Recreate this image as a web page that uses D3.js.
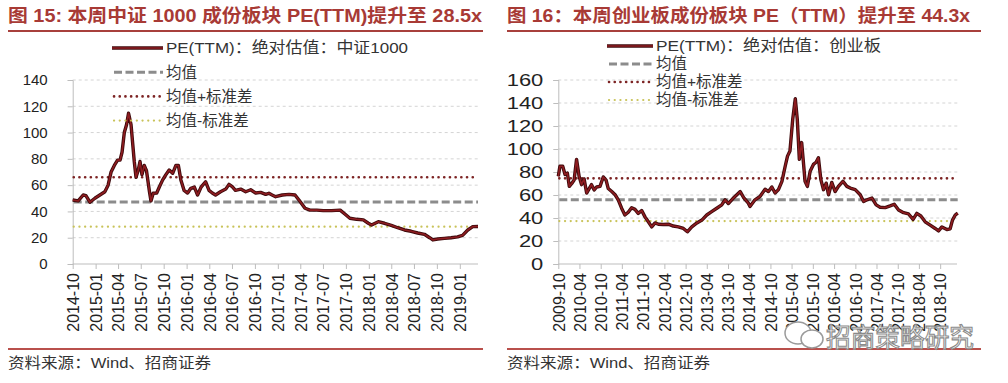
<!DOCTYPE html>
<html><head><meta charset="utf-8">
<script src="https://cdn.jsdelivr.net/npm/d3@7"></script>
<style>
body{margin:0;background:#fff;}
svg text{font-family:"Liberation Sans",Arial,"Noto Sans CJK SC",sans-serif;}
</style></head><body>
<svg id="c" width="1008" height="383"></svg>
<script>
// ---------- data: 中证1000 ----------
const csi1000Dates = ["2014-10-01","2014-10-23","2014-11-12","2014-11-23","2014-12-09","2014-12-29","2015-01-18","2015-02-07","2015-02-20","2015-03-04","2015-03-17","2015-03-30","2015-04-09","2015-04-17","2015-04-26","2015-05-05","2015-05-13","2015-05-23","2015-06-05","2015-06-12","2015-06-21","2015-06-28","2015-07-06","2015-07-15","2015-07-24","2015-08-05","2015-08-11","2015-08-20","2015-09-03","2015-09-14","2015-09-27","2015-10-10","2015-10-23","2015-11-06","2015-11-19","2015-11-29","2015-12-09","2015-12-22","2016-01-05","2016-01-18","2016-02-01","2016-02-14","2016-02-28","2016-03-17","2016-03-31","2016-04-13","2016-04-26","2016-05-16","2016-06-06","2016-06-19","2016-07-02","2016-07-15","2016-08-05","2016-08-25","2016-09-14","2016-10-04","2016-10-24","2016-11-13","2016-11-26","2016-12-09","2016-12-23","2017-01-19","2017-02-15","2017-03-11","2017-04-01","2017-04-20","2017-05-10","2017-06-06","2017-07-02","2017-08-05","2017-09-08","2017-09-28","2017-10-17","2017-11-13","2017-12-10","2017-12-30","2018-01-12","2018-02-08","2018-03-05","2018-04-01","2018-04-27","2018-05-24","2018-06-20","2018-07-16","2018-08-12","2018-09-02","2018-09-15","2018-10-04","2018-10-31","2018-11-27","2018-12-23","2019-01-12","2019-02-02","2019-02-22","2019-03-15"];
const csi1000Values = [48.7,48,52.5,52,47,50,52.5,55,60,70,75,79,79,85,100,106,114.7,106,78,66,71.5,78,68,75,71,55,48,53.8,54,58.8,64,68,71.5,69,75,75,64,56,54,57.6,58.5,52.5,58.5,62.6,56,54,52.5,55,57,60.6,58.8,56,57,55,56.5,54,54.5,53,53.8,52.5,51.2,52.5,53,52.5,47.4,42.4,41,41,40.6,40.6,41,37.8,34.8,34,33.6,31,29.7,32.2,31,29.4,27.6,25.9,24.9,23.6,22.6,20,18.3,19,19.5,20,20.6,21.8,25.9,28.4,28.5];
const csi1000Bands = [47.2, 66.0, 28.4];   // 均值, 均值+标准差, 均值-标准差
const csi1000XTicks = ["2014-10","2015-01","2015-04","2015-07","2015-10","2016-01","2016-04","2016-07","2016-10","2017-01","2017-04","2017-07","2017-10","2018-01","2018-04","2018-07","2018-10","2019-01"];
const csi1000YTicks = [0,20,40,60,80,100,120,140];
const csi1000Legend = ["PE(TTM)：绝对估值：中证1000","均值","均值+标准差","均值-标准差"];
const csi1000Title = "图 15: 本周中证 1000 成份板块 PE(TTM)提升至 28.5x";

// ---------- data: 创业板 ----------
const chinextDates = ["2009-10-01","2009-10-15","2009-11-08","2009-11-28","2009-12-18","2010-01-04","2010-01-25","2010-02-14","2010-03-07","2010-03-29","2010-04-19","2010-05-11","2010-06-02","2010-06-24","2010-07-14","2010-08-06","2010-08-27","2010-09-25","2010-10-23","2010-11-16","2010-12-05","2011-01-04","2011-02-02","2011-03-01","2011-03-30","2011-04-27","2011-05-26","2011-06-24","2011-07-23","2011-08-20","2011-09-19","2011-10-17","2011-11-15","2011-12-14","2012-01-12","2012-02-09","2012-03-23","2012-05-05","2012-06-17","2012-07-30","2012-09-12","2012-10-16","2012-11-23","2013-01-06","2013-02-18","2013-04-01","2013-05-13","2013-06-26","2013-08-08","2013-09-06","2013-10-04","2013-11-12","2013-12-16","2014-01-14","2014-02-12","2014-03-25","2014-04-08","2014-05-21","2014-07-03","2014-08-16","2014-09-14","2014-10-13","2014-11-10","2014-12-09","2015-01-08","2015-02-05","2015-02-25","2015-03-18","2015-04-11","2015-05-03","2015-05-20","2015-06-07","2015-06-27","2015-07-11","2015-07-26","2015-08-15","2015-09-08","2015-10-06","2015-10-29","2015-11-18","2015-12-09","2016-01-01","2016-01-24","2016-02-13","2016-03-12","2016-04-10","2016-05-08","2016-06-16","2016-07-20","2016-08-18","2016-09-30","2016-11-12","2016-12-11","2017-01-09","2017-02-21","2017-03-29","2017-05-02","2017-06-15","2017-07-27","2017-09-01","2017-10-08","2017-11-20","2018-01-02","2018-02-10","2018-03-14","2018-04-18","2018-05-25","2018-07-07","2018-08-19","2018-09-17","2018-10-16","2018-11-28","2018-12-26","2019-01-15","2019-02-08","2019-03-01"];
const chinextValues = [76.3,85,85,77.8,79,67.5,70,73,91,76.3,69,74,61.7,65.6,69,64.4,67,67.5,75.7,73,65.6,63,60.2,55.8,48.5,42.6,45,49,47.5,44,46.5,41,36.7,32.3,35.7,34.6,34.3,34.6,33,32.3,30.9,28,32.3,35.7,38.2,42.6,45.5,48.5,51.5,55.8,52.6,56.9,60.2,63,57.8,52.9,50,55.8,58.7,65,63,67,61.7,64.7,71.9,85,93.8,98.2,126,143.7,126,91,105.6,89.5,71.9,67.5,80.7,86.6,88.5,92.4,73.4,64.6,70.3,60.2,70.9,63,67.5,71.9,67.5,66,64.7,60.2,54.3,55.8,57.3,51.4,49.4,49,50.5,52,47,44.6,43.5,38.8,44,41.7,36.7,33.8,30.9,28.8,32.2,29.9,30.5,38.2,42.6,44.3];
const chinextBands = [55.9, 74.5, 37.3];
const chinextXTicks = ["2009-10","2010-04","2010-10","2011-04","2011-10","2012-04","2012-10","2013-04","2013-10","2014-04","2014-10","2015-04","2015-10","2016-04","2016-10","2017-04","2017-10","2018-04","2018-10"];
const chinextYTicks = [0,20,40,60,80,100,120,140,160];
const chinextLegend = ["PE(TTM)：绝对估值：创业板","均值","均值+标准差","均值-标准差"];
const chinextTitle = "图 16：本周创业板成份板块 PE（TTM）提升至 44.3x";

const sourceText = "资料来源：Wind、招商证券";

// ---------- drawing ----------
const svg = d3.select("#c");
const parseDay = d3.timeParse("%Y-%m-%d");
const parseMonth = d3.timeParse("%Y-%m");
const fmtMonth = d3.timeFormat("%Y-%m");

const lineStyles = [
  {stroke:"#8c8c8c", width:3, dash:"8,3.5", cap:"butt"},
  {stroke:"#7d2424", width:2.6, dash:"0.1,5.6", cap:"round"},
  {stroke:"#c9c35a", width:2.2, dash:"0.1,5.6", cap:"round"}
];

function panel(cfg){
  const g = svg.append("g");
  // title
  g.append("text").attr("x", cfg.left).attr("y", 22)
    .attr("font-size", 18).attr("font-weight", "bold").attr("fill", "#a83a35")
    .attr("font-family", "'Noto Sans CJK SC','Liberation Sans',sans-serif")
    .attr("textLength", cfg.titleLen).attr("lengthAdjust", "spacingAndGlyphs")
    .text(cfg.title);
  g.append("line").attr("x1", cfg.left).attr("x2", cfg.right).attr("y1", 31).attr("y2", 31)
    .attr("stroke", "#a8403c").attr("stroke-width", 2);
  g.append("line").attr("x1", cfg.left).attr("x2", cfg.right).attr("y1", 349).attr("y2", 349)
    .attr("stroke", "#b9504c").attr("stroke-width", 2);
  g.append("text").attr("x", cfg.left).attr("y", 368)
    .attr("font-size", 15).attr("fill", "#333")
    .attr("font-family", "'Noto Sans CJK SC','Liberation Sans',sans-serif")
    .attr("textLength", 203).attr("lengthAdjust", "spacingAndGlyphs")
    .text(sourceText);

  const x = d3.scaleTime().domain([parseDay(cfg.start), parseDay(cfg.end)]).range([cfg.x0, cfg.x1]);
  const y = d3.scaleLinear().domain([0, d3.max(cfg.yTicks)]).range([264, 80]);

  // gridlines
  g.append("g").selectAll("line").data(cfg.yTicks.filter(d => d > 0)).join("line")
    .attr("x1", cfg.x0).attr("x2", cfg.x1).attr("y1", d => y(d)).attr("y2", d => y(d))
    .attr("stroke", "#d4d4d4").attr("stroke-width", 1).attr("stroke-dasharray", "3,3");

  // y axis
  const ya = g.append("g").attr("transform", `translate(${cfg.x0},0)`)
    .call(d3.axisLeft(y).tickValues(cfg.yTicks).tickSize(5).tickPadding(cfg.yPad).tickFormat(d3.format("d")));
  ya.select(".domain").attr("stroke", "#bdbdbd");
  ya.selectAll(".tick line").attr("stroke", "#bdbdbd");
  ya.selectAll("text").attr("font-size", cfg.yFont).attr("fill", "#222")
    .attr("font-family", "'Liberation Sans',Arial,sans-serif");
  if (cfg.yStretch) ya.selectAll("text").attr("textLength", d => String(d).length * cfg.yStretch)
    .attr("lengthAdjust", "spacingAndGlyphs");

  // x axis
  const xa = g.append("g").attr("transform", "translate(0,264)")
    .call(d3.axisBottom(x).tickValues(cfg.xTicks.map(parseMonth)).tickSize(5).tickFormat(fmtMonth));
  xa.select(".domain").attr("stroke", "#bdbdbd").attr("d", `M${cfg.x0},0H${cfg.axisEnd}`);
  xa.selectAll(".tick line").attr("stroke", "#bdbdbd");
  xa.selectAll("text").attr("font-size", 16).attr("fill", "#222")
    .attr("font-family", "'Liberation Sans',Arial,sans-serif")
    .attr("transform", "rotate(-90)").attr("text-anchor", "end")
    .attr("x", -9).attr("y", 0).attr("dy", "0.36em");

  // band lines
  cfg.bands.forEach((v, i) => {
    const s = lineStyles[i];
    g.append("line").attr("x1", cfg.x0 + 1).attr("x2", cfg.x1).attr("y1", y(v)).attr("y2", y(v))
      .attr("stroke", s.stroke).attr("stroke-width", s.width).attr("stroke-dasharray", s.dash)
      .attr("stroke-linecap", s.cap);
  });

  // PE line
  const pts = cfg.dates.map((d, i) => [parseDay(d), cfg.values[i]]);
  const line = d3.line().x(d => x(d[0])).y(d => y(d[1]));
  g.append("path").datum(pts).attr("d", line).attr("fill", "none")
    .attr("stroke", "#3d0a0c").attr("stroke-width", 3.4).attr("stroke-linejoin", "round");
  g.append("path").datum(pts).attr("d", line).attr("fill", "none")
    .attr("stroke", "#8e1c20").attr("stroke-width", 1.6).attr("stroke-linejoin", "round");

  // legend
  const lg = g.append("g");
  cfg.legend.forEach((t, i) => {
    const ly = cfg.legY + i * cfg.legStep;
    if (i === 0) {
      lg.append("line").attr("x1", cfg.legX).attr("x2", cfg.legX + cfg.legW).attr("y1", ly).attr("y2", ly)
        .attr("stroke", "#3d0a0c").attr("stroke-width", 3.4);
      lg.append("line").attr("x1", cfg.legX).attr("x2", cfg.legX + cfg.legW).attr("y1", ly).attr("y2", ly)
        .attr("stroke", "#8e1c20").attr("stroke-width", 1.6);
    } else {
      const s = lineStyles[i - 1];
      lg.append("line").attr("x1", cfg.legX + 2).attr("x2", cfg.legX + cfg.legW).attr("y1", ly).attr("y2", ly)
        .attr("stroke", s.stroke).attr("stroke-width", s.width).attr("stroke-dasharray", s.dash)
        .attr("stroke-linecap", s.cap);
    }
    const tx = lg.append("text").attr("x", cfg.legX + cfg.legW + 3).attr("y", ly).attr("dy", "0.35em")
      .attr("font-size", 15.5).attr("fill", "#333")
      .attr("font-family", "'Noto Sans CJK SC','Liberation Sans',sans-serif")
      .text(t);
    if (i === 0) tx.attr("textLength", cfg.leg0Len).attr("lengthAdjust", "spacingAndGlyphs");
  });
}

panel({
  left: 8, right: 483, title: csi1000Title, titleLen: 474,
  start: "2014-10-01", end: "2019-03-15", x0: 72.7, x1: 478, axisEnd: 478,
  yTicks: csi1000YTicks, xTicks: csi1000XTicks, yPad: 20, yFont: 15,
  bands: csi1000Bands, dates: csi1000Dates, values: csi1000Values,
  legend: csi1000Legend, legX: 112, legW: 51, legY: 48, legStep: 24.2, leg0Len: 242
});
panel({
  left: 507, right: 981, title: chinextTitle, titleLen: 463,
  start: "2009-10-01", end: "2019-03-01", x0: 558.3, x1: 957.7, axisEnd: 957,
  yTicks: chinextYTicks, xTicks: chinextXTicks, yPad: 10, yFont: 16, yStretch: 12.2,
  bands: chinextBands, dates: chinextDates, values: chinextValues,
  legend: chinextLegend, legX: 607, legW: 46, legY: 46, legStep: 18, leg0Len: 225
});

// watermark
const wm = svg.append("g");
wm.append("ellipse").attr("cx", 798).attr("cy", 333).attr("rx", 13).attr("ry", 11)
  .attr("fill", "#fff").attr("stroke", "#9a9a9a").attr("stroke-width", 1.5);
wm.append("ellipse").attr("cx", 812).attr("cy", 339).attr("rx", 11).attr("ry", 9)
  .attr("fill", "#fff").attr("stroke", "#9a9a9a").attr("stroke-width", 1.5);
wm.append("text").attr("x", 826).attr("y", 347).attr("font-size", 26)
  .attr("font-family", "'Noto Sans CJK SC',sans-serif")
  .attr("fill", "#fff").attr("stroke", "#8a8a8a").attr("stroke-width", 1.1)
  .attr("textLength", 148).attr("lengthAdjust", "spacingAndGlyphs")
  .text("招商策略研究");
</script>
</body></html>
